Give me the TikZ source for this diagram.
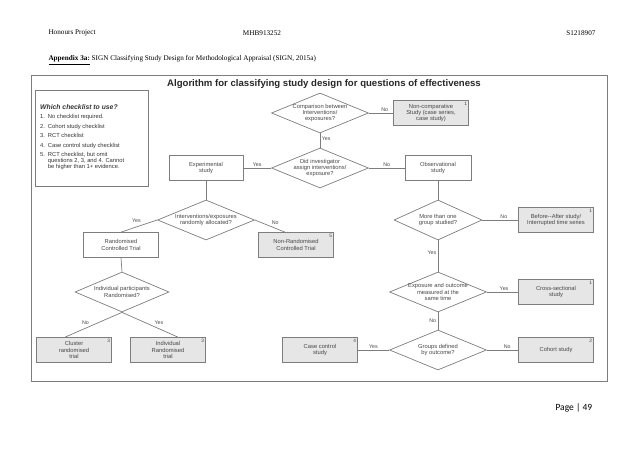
\documentclass[tikz,border=0pt]{standalone}
\usepackage{fontspec}
\setmainfont{Liberation Serif}
\newfontfamily\diagfont{Liberation Sans}
\newfontfamily\pagefont{Carlito}
\usetikzlibrary{shapes.geometric,calc}
\definecolor{linegrey}{RGB}{125,125,125}
\definecolor{boxfill}{RGB}{230,230,230}
\definecolor{inkgrey}{RGB}{70,70,70}
\newcommand{\dsize}{\diagfont\fontsize{5.8}{6.2}\selectfont}
\tikzset{
  studybox/.style={draw=linegrey, line width=0.7pt, minimum width=75pt, minimum height=25pt,
    inner sep=1pt, align=center, font=\dsize, text=inkgrey},
  endbox/.style={studybox, fill=boxfill},
  question/.style={diamond, draw=linegrey, line width=0.7pt, minimum width=97pt,
    minimum height=40pt, inner sep=0pt},
  qtext/.style={align=center, font=\dsize, text=inkgrey, inner sep=0pt},
  answer/.style={font=\diagfont\fontsize{5.3}{6}\selectfont, text=inkgrey, inner sep=1.5pt},
  level/.style={font=\diagfont\fontsize{4.8}{5}\selectfont, text=inkgrey, anchor=north east, inner sep=1.5pt},
  link/.style={draw=linegrey, line width=0.7pt}
}
\begin{document}
\begin{tikzpicture}[x=1pt,y=-1pt]
\useasboundingbox (0,0) rectangle (638,452);

\node[anchor=west, font=\fontsize{7.2}{8}\selectfont] (hleft) at (45,33) {Honours Project};
\node[font=\fontsize{7.2}{8}\selectfont] (hmid) at (262,33) {MHB913252};
\node[anchor=east, font=\fontsize{7.2}{8}\selectfont] (hright) at (599,33) {S1218907};
\node[anchor=west, font=\fontsize{7.2}{8}\selectfont] (caption) at (45,60)
  {\textbf{\underline{Appendix 3a:}} SIGN Classifying Study Design for Methodological Appraisal (SIGN, 2015a)};

\draw[draw=linegrey, line width=0.8pt] (31,75) rectangle (607,381);
\node[font=\diagfont\bfseries\fontsize{9.6}{10}\selectfont, text=black!85] (title) at (324,84)
  {Algorithm for classifying study design for questions of effectiveness};

\node[draw=linegrey, line width=0.8pt, minimum width=113pt, minimum height=96pt] (checks) at (92,138) {};
\node[anchor=north west, align=left, inner sep=0pt, text=black!80,
  font=\diagfont\fontsize{5.8}{6.1}\selectfont] (checktext) at (40,104)
  {{\bfseries\itshape\fontsize{6.8}{7}\selectfont Which checklist to use?}\\[3.4pt]
   1.\enspace No checklist required.\\[3.4pt]
   2.\enspace Cohort study checklist\\[3.4pt]
   3.\enspace RCT checklist\\[3.4pt]
   4.\enspace Case control study checklist\\[3.4pt]
   5.\enspace RCT checklist, but omit\\
   \phantom{5.}\enspace questions 2, 3, and 4. Cannot\\
   \phantom{5.}\enspace be higher than 1+ evidence.};

\node[question, label={[qtext]center:Comparison between\\Interventions/\\exposures?}] (compare) at (320,113) {};
\node[endbox] (noncomp) at (431,113) {Non-comparative\\Study (case series,\\case study)};
\node[question, label={[qtext]center:Did investigator\\assign interventions/\\exposure?}] (assign) at (320,168) {};
\node[studybox, minimum width=74pt] (exper) at (206,168) {Experimental\\study};
\node[studybox, minimum width=66pt] (observ) at (438,168) {Observational\\study};

\node[question, minimum width=88pt, label={[qtext]center:More than one\\group studied?}] (groups) at (438,220) {};
\node[endbox] (beforeafter) at (556,220) {Before--After study/\\Interrupted time series};
\node[question, label={[qtext]center:Exposure and outcome\\measured at the\\same time}] (sametime) at (438,292) {};
\node[endbox] (crosssec) at (556,292) {Cross-sectional\\study};
\node[question, label={[qtext]center:Groups defined\\by outcome?}] (outcome) at (438,350) {};
\node[endbox] (casecontrol) at (320,350) {Case control\\study};
\node[endbox] (cohort) at (556,350) {Cohort study};

\node[question, label={[qtext]center:Interventions/exposures\\randomly allocated?}] (allocated) at (206,220) {};
\node[studybox] (rct) at (121,245) {Randomised\\Controlled Trial};
\node[endbox] (nonrct) at (296,245) {Non-Randomised\\Controlled Trial};
\node[question, minimum width=94pt, label={[qtext]center:Individual participants\\Randomised?}] (individual) at (122,292) {};
\node[endbox] (cluster) at (74,350) {Cluster\\randomised\\trial};
\node[endbox] (indiv) at (168,350) {Individual\\Randomised\\trial};

\node[level] at (noncomp.north east) {1};
\node[level] at (beforeafter.north east) {1};
\node[level] at (crosssec.north east) {1};
\node[level] at (cohort.north east) {2};
\node[level] at (casecontrol.north east) {4};
\node[level] at (nonrct.north east) {5};
\node[level] at (cluster.north east) {3};
\node[level] at (indiv.north east) {3};

\path[link]
(compare.east) edge node[answer, above, pos=0.65] {No} (noncomp.west)
(compare.south) edge node[answer, right, pos=0.4] {Yes} (assign.north)
(assign.east) edge node[answer, above] {No} (observ.west)
(assign.west) edge node[answer, above] {Yes} (exper.east)
(observ.south) edge (groups.north)
(groups.east) edge node[answer, above, pos=0.6] {No} (beforeafter.west)
(groups.south) edge node[answer, left, pos=0.4] {Yes} (sametime.north)
(sametime.east) edge node[answer, above, pos=0.55] {Yes} (crosssec.west)
(sametime.south) edge node[answer, left, pos=0.5] {No} (outcome.north)
(outcome.west) edge node[answer, above] {Yes} (casecontrol.east)
(outcome.east) edge node[answer, above, pos=0.65] {No} (cohort.west)
(exper.south) edge (allocated.north)
(allocated.west) edge node[answer, above left, pos=0.4] {Yes} (rct.north)
(allocated.east) edge node[answer, above right, pos=0.5] {No} ($(nonrct.north)+(-11,0)$)
(rct.south) edge (individual.north)
(individual.south) edge node[answer, above left, pos=0.55] {No} ($(cluster.north)+(-9,0)$)
(individual.south) edge node[answer, above right, pos=0.55] {Yes} ($(indiv.north)+(10,0)$)
;

\node[anchor=west, font=\pagefont\fontsize{9.5}{11}\selectfont] (pagenum) at (552,408) {Page | 49};
\end{tikzpicture}
\end{document}
